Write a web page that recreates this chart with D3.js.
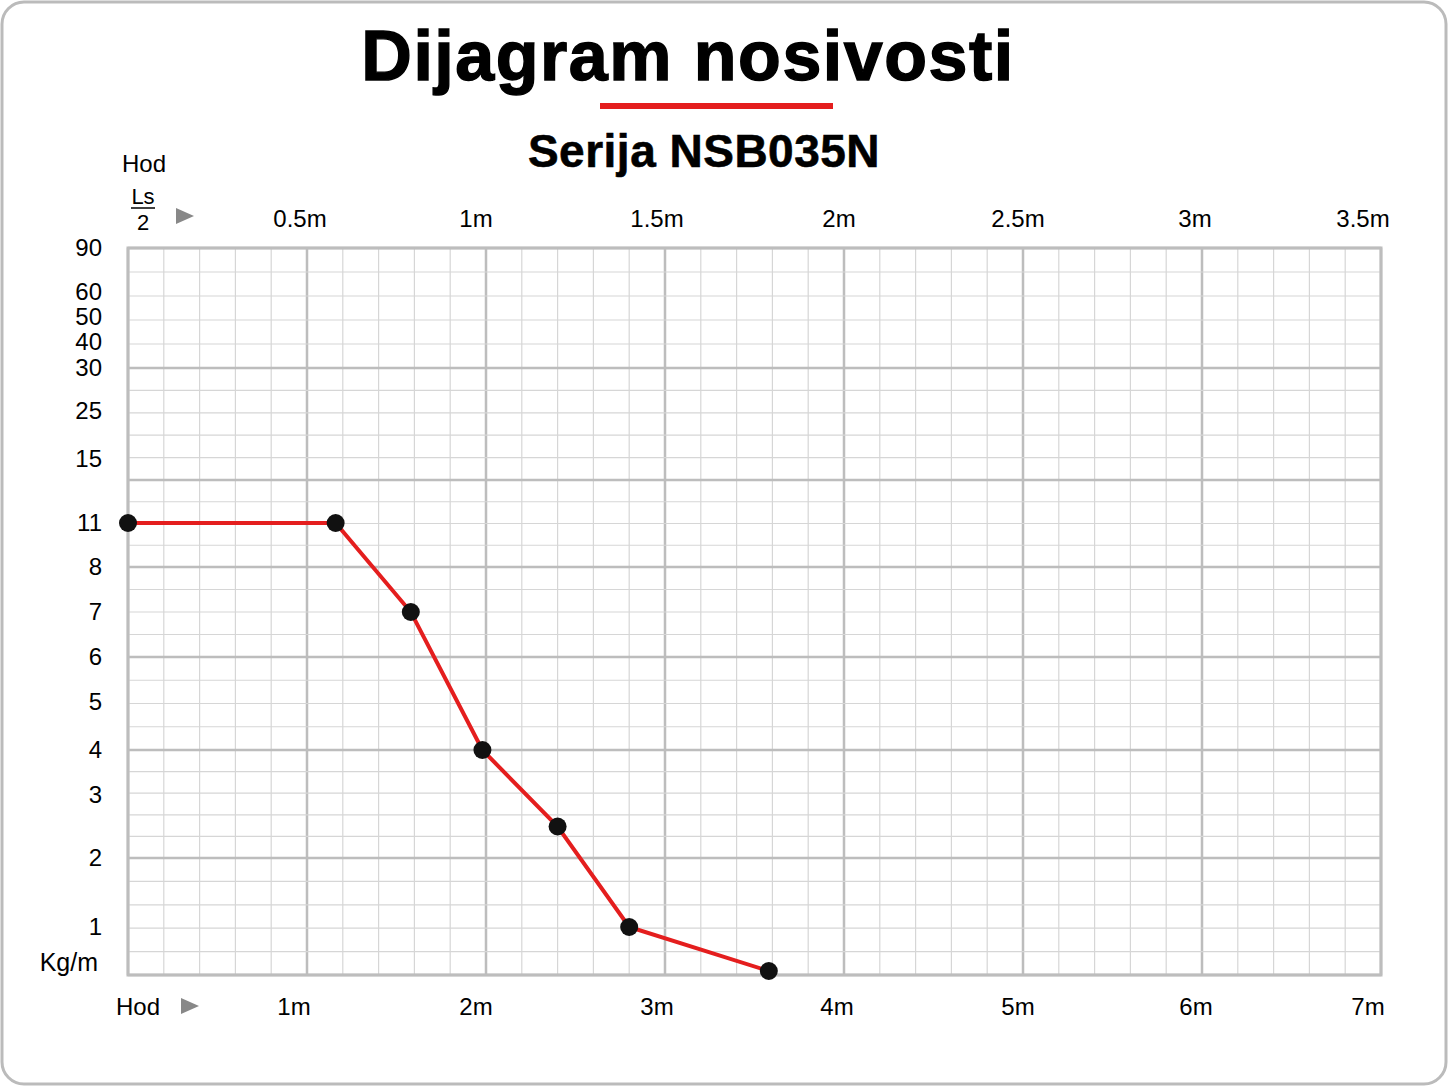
<!DOCTYPE html><html><head><meta charset="utf-8"><script src="https://cdn.jsdelivr.net/npm/d3@7"></script>
<style>body{margin:0;background:#fff}text{font-family:"Liberation Sans",Arial,sans-serif}</style></head><body>
<svg id="c" width="1448" height="1086"></svg>
<script>
const strokeX = [0,0.58,0.79,0.99,1.2,1.4,1.79]; // Ls/2 in m
const loadY = [11,11,7,4,2.5,1,0];
const yTickLabels = [90,60,50,40,30,25,15,11,8,7,6,5,4,3,2,1];
const yMajorVals = [90,30,13,8,6,4,2,0];
const yMinorCounts = [5,5,4,4,4,5,5];
const bottomTicks = ["1m","2m","3m","4m","5m","6m","7m"];
const topTicks = ["0.5m","1m","1.5m","2m","2.5m","3m","3.5m"];

const svg=d3.select("#c");
const L=128,R=1381,T=248,B=975;
const x=d3.scaleLinear().domain([0,3.5]).range([L,R]);
const y=d3.scaleLinear()
  .domain([0,1,2,3,4,5,6,7,8,11,13,15,25,30,40,50,60,90])
  .range([975,927,858,795,750,702,657,612,567,523,480,459,411,368,342,317,292,248]);

svg.append("rect").attr("x",2).attr("y",2).attr("width",1444).attr("height",1082).attr("rx",22).attr("fill","#fff").attr("stroke","#bbb").attr("stroke-width",3);
svg.append("text").attr("x",688).attr("y",80).attr("text-anchor","middle").attr("font-size",70).attr("font-weight","bold").attr("letter-spacing",1.5).attr("stroke","#000").attr("stroke-width",1.4).text("Dijagram nosivosti");
svg.append("rect").attr("x",600).attr("y",103).attr("width",233).attr("height",6).attr("fill","#e41e1e");
svg.append("text").attr("x",704).attr("y",167).attr("text-anchor","middle").attr("font-size",46).attr("font-weight","bold").attr("letter-spacing",0.5).attr("stroke","#000").attr("stroke-width",0.6).text("Serija NSB035N");

const g=svg.append("g");
for(let i=0;i<=35;i++){const px=x(i*0.1); const major=i%5===0;
  g.append("line").attr("x1",px).attr("x2",px).attr("y1",T).attr("y2",B).attr("stroke",major?"#bdbdbd":"#d6d6d6").attr("stroke-width",major?2.5:1.2);}
for(let k=0;k<yMajorVals.length-1;k++){const a=y(yMajorVals[k]),b=y(yMajorVals[k+1]);const n=yMinorCounts[k];
  for(let j=1;j<n;j++){const py=a+(b-a)*j/n; g.append("line").attr("x1",L).attr("x2",R).attr("y1",py).attr("y2",py).attr("stroke","#d6d6d6").attr("stroke-width",1.2);}}
yMajorVals.forEach(v=>g.append("line").attr("x1",L).attr("x2",R).attr("y1",y(v)).attr("y2",y(v)).attr("stroke","#bdbdbd").attr("stroke-width",2.5));
g.append("rect").attr("x",L).attr("y",T).attr("width",R-L).attr("height",B-T).attr("fill","none").attr("stroke","#bdbdbd").attr("stroke-width",3);

yTickLabels.forEach(v=>svg.append("text").attr("x",102).attr("y",y(v)+8).attr("text-anchor","end").attr("font-size",24).text(v));
svg.append("text").attr("x",98).attr("y",971).attr("text-anchor","end").attr("font-size",25).text("Kg/m");
const bOff=[-13,-10,-8,-7,-5,-6,-13], tOff=[-7,-10,-8,-5,-5,-7,-18];
bottomTicks.forEach((t,i)=>svg.append("text").attr("x",x((i+1)*0.5)+bOff[i]).attr("y",1015).attr("text-anchor","middle").attr("font-size",24).text(t));
topTicks.forEach((t,i)=>svg.append("text").attr("x",x((i+1)*0.5)+tOff[i]).attr("y",227).attr("text-anchor","middle").attr("font-size",24).text(t));
svg.append("text").attr("x",116).attr("y",1015).attr("font-size",24).text("Hod");
svg.append("path").attr("d","M181,998 L199,1006 L181,1014Z").attr("fill","#888");
svg.append("text").attr("x",122).attr("y",172).attr("font-size",24).text("Hod");
svg.append("text").attr("x",143).attr("y",204).attr("text-anchor","middle").attr("font-size",22).text("Ls");
svg.append("line").attr("x1",131).attr("x2",155).attr("y1",208).attr("y2",208).attr("stroke","#000").attr("stroke-width",1.5);
svg.append("text").attr("x",143).attr("y",230).attr("text-anchor","middle").attr("font-size",22).text("2");
svg.append("path").attr("d","M176,208 L194,216 L176,224Z").attr("fill","#888");

const pts=strokeX.map((d,i)=>[d,loadY[i]]);
const py=d=>y(d[1])-(d[1]===0?4:0);
svg.append("path").datum(pts).attr("d",d3.line().x(d=>x(d[0])).y(py)).attr("fill","none").attr("stroke","#e41e1e").attr("stroke-width",4);
svg.selectAll(".pt").data(pts).join("circle").attr("cx",d=>x(d[0])).attr("cy",py).attr("r",9).attr("fill","#111");
</script></body></html>
